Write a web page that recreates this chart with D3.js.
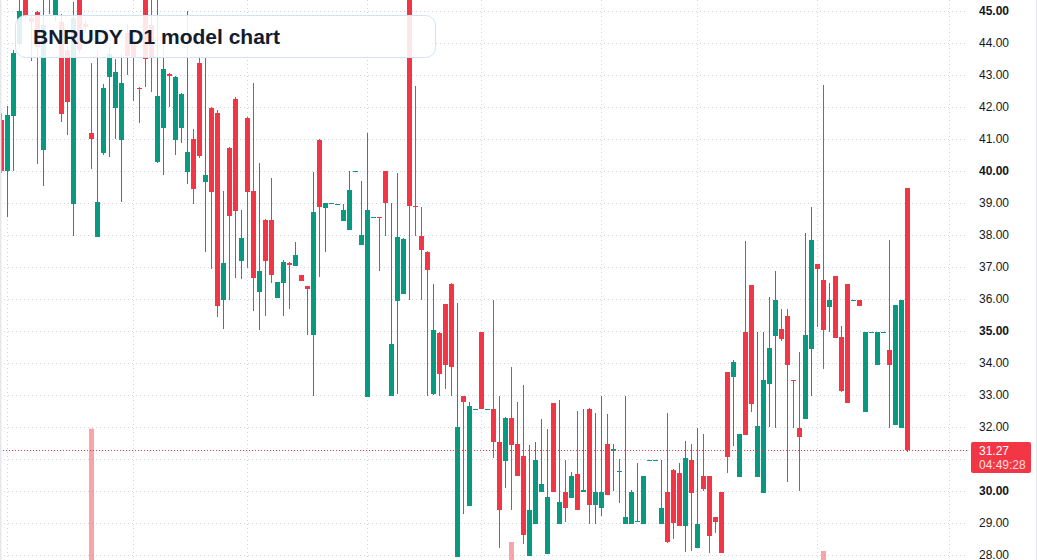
<!DOCTYPE html>
<html>
<head>
<meta charset="utf-8">
<script src="https://cdn.jsdelivr.net/npm/d3@7"></script>
<style>
  body { margin: 0; background: #fff; }
  svg { display: block; }
</style>
</head>
<body>
<div id="chart"></div>
<script>
// Data (daily candles, oldest first)
const opens = [41.58,40.0,41.73,43.98,45.8,44.78,44.97,40.66,46.3,44.85,44.65,43.78,38.98,45.5,44.58,41.19,37.94,40.57,42.94,41.98,
  40.97,44.3,44.0,42.6,45.7,44.56,40.27,41.33,43.02,40.98,41.35,39.98,41.0,43.37,39.67,41.98,41.81,35.98,40.73,42.25,
  37.2,41.66,39.38,36.23,38.47,38.47,36.04,36.51,37.13,37.04,36.75,36.41,34.88,40.97,38.85,38.98,38.96,38.45,38.17,39.99,
  37.7,32.95,38.54,38.56,40.0,32.96,35.95,36.17,46.0,38.92,37.96,37.47,33.04,34.95,35.83,36.47,27.94,32.96,29.53,32.54,
  34.96,32.54,32.55,31.53,30.95,32.28,31.47,31.09,27.97,28.96,29.97,28.04,32.75,28.96,29.96,29.78,30.53,29.98,32.57,29.57,
  29.46,31.47,31.25,30.6,28.96,28.96,29.03,28.96,30.96,30.96,28.97,29.96,30.66,30.57,28.92,30.97,28.23,30.47,30.47,29.19,
  29.97,33.72,33.57,30.45,34.97,36.44,30.45,29.95,33.34,34.84,35.06,35.47,33.47,31.98,32.26,34.45,37.09,36.59,35.76,36.72,
  34.81,36.47,35.96,35.97,32.48,34.96,33.95,34.96,34.41,32.07,31.98,39.47];
const highs = [41.8,42.03,43.78,45.4,46.0,44.85,45.0,45.4,46.5,46.2,44.9,43.9,45.29,45.8,44.7,43.36,43.78,42.72,43.89,43.5,
  43.67,44.6,44.3,42.62,46.0,45.5,45.4,44.2,43.05,42.96,42.45,45.0,41.3,43.6,43.56,42.0,41.9,39.38,40.75,42.3,
  38.78,41.7,42.76,40.26,38.5,39.78,36.53,37.22,37.15,37.78,36.75,36.42,39.98,41.0,39.0,39.0,38.97,38.97,40.0,40.0,
  39.69,41.2,38.55,38.56,40.0,39.0,39.95,37.9,46.3,42.67,38.87,37.5,36.47,34.97,35.85,36.5,35.88,32.97,32.77,32.55,
  34.97,32.55,35.97,32.96,32.3,33.88,32.78,33.31,31.43,31.53,32.26,31.95,32.76,32.84,30.97,30.58,32.51,32.57,32.58,32.45,
  32.96,32.42,31.47,31.0,32.96,30.03,30.87,30.47,30.97,30.97,30.97,32.45,30.68,30.89,31.57,31.47,31.96,31.78,30.48,29.2,
  29.98,33.73,34.09,31.79,37.81,36.45,34.97,34.97,36.07,36.89,35.69,35.69,33.48,34.35,38.06,38.87,37.1,42.69,36.51,36.73,
  35.16,36.48,35.97,35.98,34.98,34.97,34.97,34.97,37.84,35.81,35.97,39.47];
const lows = [39.95,38.57,40.01,43.9,44.75,43.45,40.23,39.52,44.9,44.7,41.52,41.14,37.98,43.7,44.3,40.07,37.94,40.49,40.43,40.99,
  39.03,43.0,42.2,41.51,42.64,42.48,40.26,39.88,42.01,40.5,40.89,39.59,38.98,40.4,37.48,36.93,35.45,35.05,35.98,36.67,
  36.64,36.98,35.64,35.03,35.47,36.49,36.04,35.47,35.69,37.04,36.57,34.88,32.97,36.7,37.48,38.98,38.96,38.45,38.17,39.99,
  37.7,32.95,38.54,36.89,37.98,32.96,33.04,36.17,35.97,37.98,35.97,32.98,33.0,32.98,33.18,32.98,27.94,29.27,29.53,32.54,
  32.55,32.54,31.03,28.21,30.08,29.42,30.47,28.34,27.97,28.96,29.97,28.04,29.96,28.96,29.02,29.78,29.42,29.98,28.97,28.97,
  29.22,29.89,30.0,29.64,28.96,28.96,29.03,28.96,30.96,30.96,28.97,28.38,28.49,28.9,28.1,28.13,28.23,30.01,28.07,28.7,
  28.07,30.57,31.41,30.45,31.75,32.48,30.45,29.95,32.01,31.97,34.7,30.28,31.98,30.0,32.26,32.97,35.11,33.8,34.97,34.79,
  33.1,32.76,35.96,35.79,32.48,34.96,33.95,34.96,31.98,32.07,31.98,31.23];
const closes = [40.0,41.75,43.7,45.0,44.85,44.66,43.89,44.56,45.5,46.0,41.79,42.16,44.79,43.78,44.5,40.99,39.03,42.6,43.65,43.08,
  42.75,43.6,43.55,42.56,43.5,43.56,42.35,43.19,42.98,42.94,42.41,40.59,39.45,40.48,39.88,39.35,35.79,37.11,38.6,38.76,
  37.91,39.35,36.67,36.88,37.2,36.76,36.53,37.16,37.07,37.38,36.57,36.32,38.72,38.88,39.0,39.0,38.97,38.78,39.41,40.0,
  38.0,38.78,38.55,38.55,38.99,34.6,37.94,37.89,38.91,38.86,37.54,36.92,35.02,33.67,33.95,33.88,32.01,32.77,32.66,32.55,
  32.55,32.55,31.53,29.42,32.28,31.45,30.48,28.64,29.41,30.97,30.22,29.8,29.96,29.66,29.46,30.47,29.42,30.02,29.57,29.96,
  29.96,29.89,31.3,30.62,29.18,29.96,29.06,30.47,30.97,30.97,29.47,28.4,29.01,28.92,31.03,29.95,28.97,30.07,28.6,29.04,
  28.07,31.07,34.03,31.78,31.76,32.73,32.03,33.47,34.47,35.97,34.76,33.95,33.44,31.7,34.88,37.84,36.95,35.04,35.97,34.79,
  33.13,32.76,35.97,35.79,34.97,34.97,34.97,34.97,33.95,35.81,35.97,31.27];

// volume pane: only three sessions carry visible volume
const volumeIndex = [15, 85, 137];
const volumeValues = [1460000, 200000, 100000];

const priceTicks = [28,29,30,31,32,33,34,35,36,37,38,39,40,41,42,43,44,45];
const monthStartIndex = [1, 22, 41, 61, 80, 100, 116, 136, 158];

const title = "BNRUDY D1 model chart";
const lastPrice = 31.27;
const countdown = "04:49:28";

// Dimensions
const dims = { width: 1037, height: 560, plotRight: 968 };

const upColor = "#089981";
const downColor = "#f23645";

const candles = opens.map((o, i) => ({ i, o, h: highs[i], l: lows[i], c: closes[i] }));

const svg = d3.select("#chart").append("svg")
  .attr("width", dims.width)
  .attr("height", dims.height)
  .style("font-family", "'Liberation Sans', Arial, sans-serif");

// Scales
const xScale = d3.scaleLinear().domain([0, 151]).range([1.5, 907.5]);
const yScale = d3.scaleLinear().domain([28, 45]).range([555, 11]);
const volScale = d3.scaleLinear().domain([0, d3.max(volumeValues)]).range([560, 428.6]);

// Grid
const grid = svg.append("g");
grid.selectAll("line.h").data(priceTicks).join("line")
  .attr("x1", 0).attr("x2", dims.plotRight)
  .attr("y1", d => Math.round(yScale(d)) + 0.5)
  .attr("y2", d => Math.round(yScale(d)) + 0.5)
  .attr("stroke", "#cfd3da").attr("stroke-dasharray", "1,3");
grid.selectAll("line.v").data(monthStartIndex).join("line")
  .attr("x1", d => xScale(d)).attr("x2", d => xScale(d))
  .attr("y1", 0).attr("y2", dims.height)
  .attr("stroke", "#cfd3da").attr("stroke-dasharray", "1,3");

// Volume
svg.append("g").selectAll("rect").data(volumeIndex).join("rect")
  .attr("x", d => xScale(d) - 2.5)
  .attr("width", 5)
  .attr("y", (d, k) => volScale(volumeValues[k]))
  .attr("height", (d, k) => 560 - volScale(volumeValues[k]))
  .attr("fill", d => closes[d] >= opens[d] ? "rgba(8,153,129,0.45)" : "rgba(242,54,69,0.45)");

// Candles
const cg = svg.append("g");
const color = d => (d.c >= d.o ? upColor : downColor);
cg.selectAll("rect.wick").data(candles).join("rect")
  .attr("x", d => xScale(d.i) - 0.5)
  .attr("width", 1)
  .attr("y", d => Math.round(yScale(d.h)))
  .attr("height", d => Math.max(1, Math.round(yScale(d.l)) - Math.round(yScale(d.h))))
  .attr("fill", color);
cg.selectAll("rect.body").data(candles).join("rect")
  .attr("x", d => xScale(d.i) - 2.5)
  .attr("width", 5)
  .attr("y", d => Math.round(yScale(Math.max(d.o, d.c))))
  .attr("height", d => Math.max(1, Math.round(yScale(Math.min(d.o, d.c))) - Math.round(yScale(Math.max(d.o, d.c)))))
  .attr("fill", color);

// Last price line
svg.append("line")
  .attr("x1", 0).attr("x2", dims.plotRight)
  .attr("y1", Math.round(yScale(lastPrice)) + 0.5)
  .attr("y2", Math.round(yScale(lastPrice)) + 0.5)
  .attr("stroke", downColor).attr("stroke-dasharray", "1,2");

// Price axis (labels covered by the last-price tag are skipped)
const labelTop = Math.round(yScale(lastPrice)) - 8;
const visibleTicks = priceTicks.filter(t => {
  const y = yScale(t);
  return y < labelTop - 6 || y > labelTop + 31 + 6;
});
const yAxis = d3.axisRight(yScale).tickValues(visibleTicks).tickSize(0).tickPadding(0)
  .tickFormat(d => d.toFixed(2));
const axisG = svg.append("g")
  .attr("transform", `translate(979,0)`)
  .call(yAxis);
axisG.select(".domain").remove();
axisG.selectAll("text")
  .attr("fill", "#131722")
  .attr("font-size", 12)
  .attr("font-family", "'Liberation Sans', Arial, sans-serif")
  .attr("font-weight", d => (d % 5 === 0 ? "bold" : "normal"));

// Last price label
const lbl = svg.append("g").attr("transform", `translate(971,${labelTop})`);
lbl.append("rect").attr("width", 60).attr("height", 31).attr("rx", 2).attr("fill", downColor);
lbl.append("text").attr("x", 8).attr("y", 13).attr("fill", "#fff").attr("font-size", 12).text(lastPrice.toFixed(2));
lbl.append("text").attr("x", 8).attr("y", 27).attr("fill", "rgba(255,255,255,0.85)").attr("font-size", 12).text(countdown);

// Title box
const tb = svg.append("g");
tb.append("rect")
  .attr("x", 15.5).attr("y", 15.5).attr("width", 420).attr("height", 42).attr("rx", 10)
  .attr("fill", "rgba(255,255,255,0.88)").attr("stroke", "#d3e2f7");
tb.append("text")
  .attr("x", 33).attr("y", 44)
  .attr("fill", "#131c2e").attr("font-size", 21).attr("font-weight", "bold")
  .text(title);

// Borders
svg.append("rect").attr("x", 0).attr("y", 0).attr("width", 1.5).attr("height", dims.height).attr("fill", "#e6e8ec");
svg.append("rect").attr("x", dims.width - 1).attr("y", 0).attr("width", 1).attr("height", dims.height).attr("fill", "#e6e8ec");
</script>
</body>
</html>
